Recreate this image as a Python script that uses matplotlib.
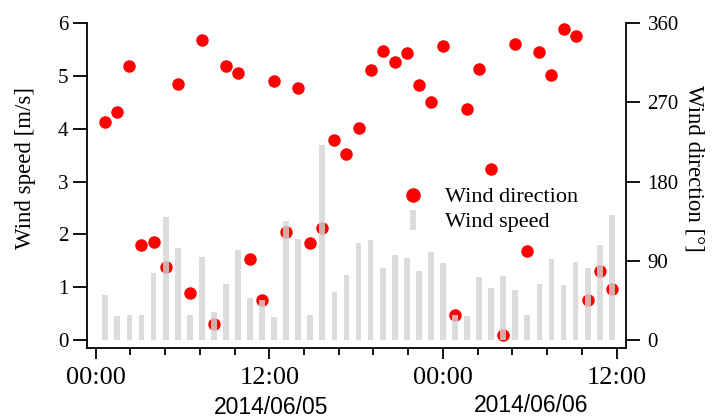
import matplotlib
matplotlib.use("Agg")
import matplotlib.pyplot as plt
import matplotlib.dates as mdates
from matplotlib.ticker import MultipleLocator
from matplotlib.lines import Line2D
import pandas as pd

# ---- data ----
start_time = "2014-06-05 00:40"
n_samples = 43
sample_freq = "50min"

wind_speed = [0.85, 0.46, 0.47, 0.47, 1.27, 2.32, 1.74, 0.47, 1.57, 0.52,
              1.06, 1.70, 0.79, 0.76, 0.44, 2.25, 1.91, 0.48, 3.69, 0.90,
              1.23, 1.83, 1.89, 1.36, 1.61, 1.56, 1.31, 1.67, 1.45, 0.47,
              0.46, 1.19, 0.99, 1.21, 0.94, 0.47, 1.05, 1.54, 1.04, 1.47,
              1.36, 1.80, 2.36]

wind_direction = [248, 259, 311, 108, 111, 83, 291, 53, 341, 18,
                  311, 303, 92, 45, 294, 123, 287, 110, 127, 227,
                  211, 241, 307, 329, 316, 326, 290, 270, 334, 28,
                  263, 308, 194, 6, 337, 101, 327, 301, 353, 346,
                  45, 78, 58]

speed_ticks = [0, 1, 2, 3, 4, 5, 6]
direction_ticks = [0, 90, 180, 270, 360]
date_labels = ["2014/06/05", "2014/06/06"]
series_labels = ["Wind direction", "Wind speed"]
speed_label = "Wind speed [m/s]"
direction_label = "Wind direction [\u00b0]"

times = pd.date_range(start_time, periods=n_samples, freq=sample_freq)

# ---- styling ----
SERIF = ["Liberation Serif", "DejaVu Serif"]
SANS = ["Liberation Sans", "DejaVu Sans"]
BAR_COLOR = "#d4d4d4"
BAR_ALPHA = 0.8
DOT_COLOR = "#ff0000"

plt.rcParams["font.family"] = SERIF

fig = plt.figure(figsize=(7.16, 4.17), dpi=100)
ax1 = fig.add_axes([0.1219, 0.1647, 0.8743 - 0.1219, 0.9441 - 0.1647])
ax2 = ax1.twinx()

# bars (speed) drawn above dots (direction)
ax1.set_zorder(2)
ax1.patch.set_visible(False)
ax2.set_zorder(1)

bar_width = 0.4 / 24.0  # days
ax1.bar(times, wind_speed, width=bar_width, color=BAR_COLOR, alpha=BAR_ALPHA,
        linewidth=0, align="center")
ax2.plot(times, wind_direction, linestyle="none", marker="o", markersize=9,
         color=DOT_COLOR, markeredgewidth=0)

# limits
x0 = mdates.date2num(pd.Timestamp("2014-06-05 00:00"))
ax1.set_xlim(x0 - 0.58 / 24, x0 + 36.65 / 24)
ax1.set_ylim(-0.16, 6)
ax2.set_ylim(-0.16 * 60, 360)

ax1.set_yticks(speed_ticks)
ax2.set_yticks(direction_ticks)

ax1.xaxis.set_major_locator(MultipleLocator(0.5))
ax1.xaxis.set_minor_locator(MultipleLocator(0.1))
ax1.xaxis.set_major_formatter(mdates.DateFormatter("%H:%M"))

for ax in (ax1, ax2):
    ax.spines["top"].set_visible(False)
    for s in ("left", "right", "bottom"):
        ax.spines[s].set_linewidth(1.3)

ax1.spines["right"].set_visible(False)
ax2.spines["left"].set_visible(False)
ax2.spines["bottom"].set_visible(False)

ax1.tick_params(axis="y", which="major", length=10, width=1.3, labelsize=15, pad=3.5)
ax2.tick_params(axis="y", which="major", length=10, width=1.3, labelsize=15, pad=5.5)
ax1.tick_params(axis="x", which="major", length=8, width=1.3, labelsize=19, pad=5.5)
ax1.tick_params(axis="x", which="minor", length=5, width=1.3)

ax1.set_ylabel(speed_label, fontsize=16.5, ha="center", va="center")
ax1.yaxis.set_label_coords(-0.114, 0.555)
ax2.set_ylabel(direction_label, fontsize=16.5, rotation=270, ha="center", va="center")
ax2.yaxis.set_label_coords(1.126, 0.555)

# date labels under the time axis
fig.text(271 / 716, 1 - 407 / 417, date_labels[0], family=SANS, fontsize=16.5,
         ha="center", va="center")
fig.text(531.5 / 716, 1 - 405.5 / 417, date_labels[1], family=SANS, fontsize=16.5,
         ha="center", va="center")

# legend
h_dir = Line2D([], [], linestyle="none", marker="o", markersize=10.5,
               color=DOT_COLOR, markeredgewidth=0)
h_spd = Line2D([], [], linestyle="none", marker="|", markersize=15,
               markeredgewidth=4.3, color=BAR_COLOR, alpha=BAR_ALPHA)
fig.legend([h_dir, h_spd], series_labels, loc="center left",
           bbox_to_anchor=(396 / 716, 1 - 209.7 / 417), frameon=False,
           fontsize=16, handlelength=1.5, handletextpad=0.72,
           labelspacing=0.2, borderpad=0, borderaxespad=0)

fig.savefig("out.png", dpi=100)
